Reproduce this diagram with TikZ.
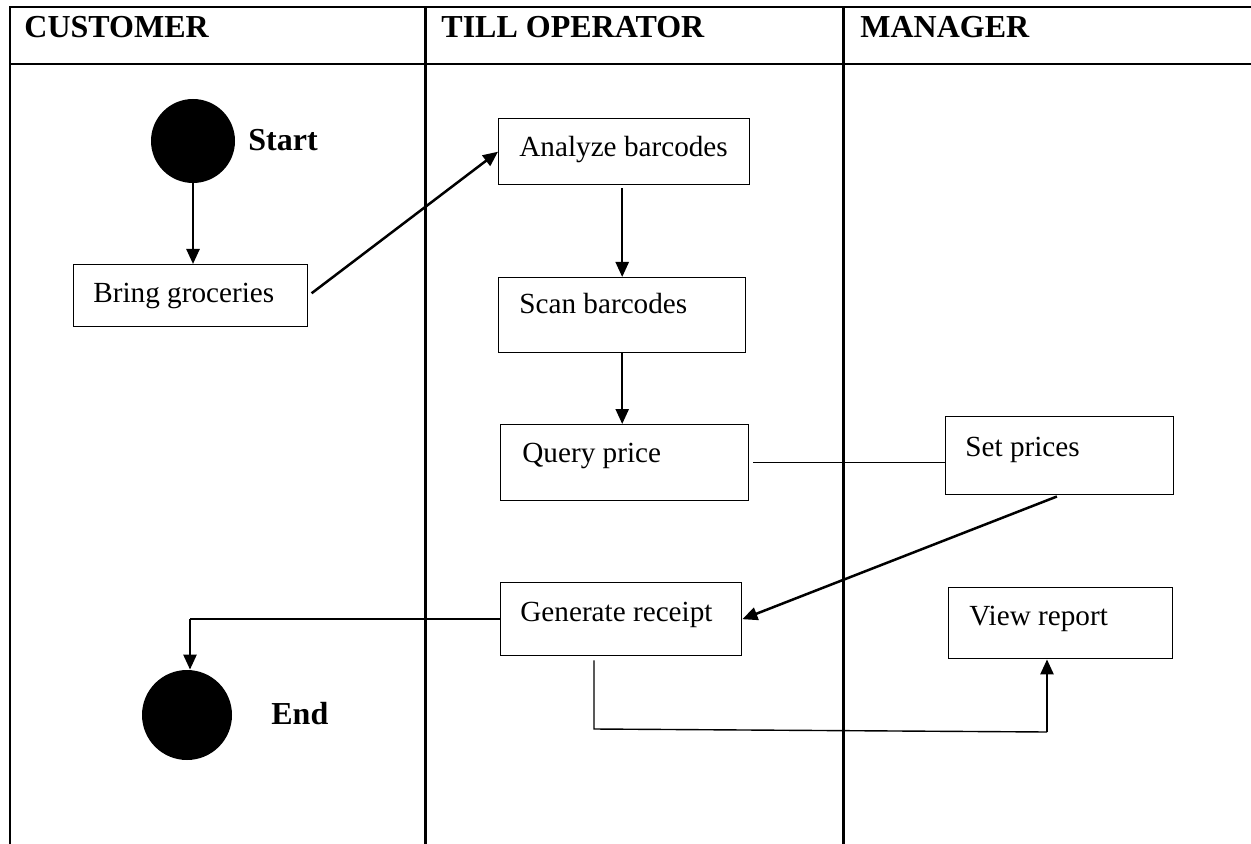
\documentclass[tikz,border=0pt]{standalone}
\usepackage{fontspec}
\setmainfont{Liberation Serif}
\usetikzlibrary{arrows.meta}
\begin{document}
\begin{tikzpicture}[x=0.5pt,y=-0.5pt,
  rule/.style={line width=1.25pt,black},
  actbox/.style={draw,line width=0.7pt,rectangle,inner sep=0pt,anchor=north west},
  lbl/.style={inner sep=0pt,anchor=base west,font=\fontsize{14.6}{17}\selectfont},
  head/.style={inner sep=0pt,anchor=base west,font=\fontsize{16}{19}\selectfont\bfseries},
  dot/.style={circle,fill=black,draw=none,inner sep=0pt},
  flow/.style={line width=1.25pt,-{Triangle[length=7.5pt,width=6.5pt]}},
  link/.style={line width=0.7pt}]
\useasboundingbox (0,0) rectangle (1251,844);

% swimlane grid
\draw[rule] (10,844) -- (10,7) -- (1251,7);
\draw[rule] (10,64) -- (1251,64);
\draw[rule] (425.5,7) -- (425.5,844);
\draw[rule] (843.5,7) -- (843.5,844);

% lane headings
\node[head] (hcust) at (24,38) {CUSTOMER};
\node[head] (htill) at (441,38) {TILL OPERATOR};
\node[head] (hman) at (860,38) {MANAGER};

% start and end points
\node[dot,minimum size=42pt] (start) at (193,141) {};
\node[head] (start-t) at (248,151) {Start};
\node[dot,minimum size=45pt] (end) at (187,715) {};
\node[head] (end-t) at (271,724) {End};

% activities
\node[actbox,minimum width=117pt,minimum height=31pt] (bring) at (73,264) {};
\node[lbl] (bring-t) at (93,303) {Bring groceries};

\node[actbox,minimum width=125.5pt,minimum height=33pt] (analyze) at (498,118) {};
\node[lbl] (analyze-t) at (519,157) {Analyze barcodes};

\node[actbox,minimum width=123.5pt,minimum height=37.5pt] (scan) at (498,277) {};
\node[lbl] (scan-t) at (519,314) {Scan barcodes};

\node[actbox,minimum width=124pt,minimum height=38pt] (query) at (500,424) {};
\node[lbl] (query-t) at (522,462) {Query price};

\node[actbox,minimum width=114pt,minimum height=39pt] (set) at (945,416) {};
\node[lbl] (set-t) at (965,456) {Set prices};

\node[actbox,minimum width=120.5pt,minimum height=36.5pt] (receipt) at (500,582) {};
\node[lbl] (receipt-t) at (520,621) {Generate receipt};

\node[actbox,minimum width=112pt,minimum height=35.5pt] (view) at (948,587) {};
\node[lbl] (view-t) at (969,625) {View report};

% flows
\draw[flow] (start.south) -- (start.south |- bring.north);
\draw[flow,shorten <=2pt] (bring.east) -- (analyze.west);
\draw[flow,shorten <=1.5pt] (analyze.south -| scan.north) -- (scan.north);
\draw[flow] (scan.south) -- (scan.south |- query.north);
\draw[link,shorten <=2pt] (query.east) -- (query.east -| set.west);
\draw[flow,shorten <=1.5pt] (set.south) -- (receipt.east);

\coordinate (re1) at (190,619);
\draw[link] (receipt.west |- re1) -- (re1);
\draw[flow] (re1) -- (re1 |- end.north);

\coordinate (rv1) at (594,729);
\coordinate (rv2) at (1047,732);
\draw[link,shorten <=2pt] (receipt.south -| rv1) -- (rv1) -- (rv2);
\draw[flow] (rv2) -- (rv2 |- view.south);
\end{tikzpicture}
\end{document}
